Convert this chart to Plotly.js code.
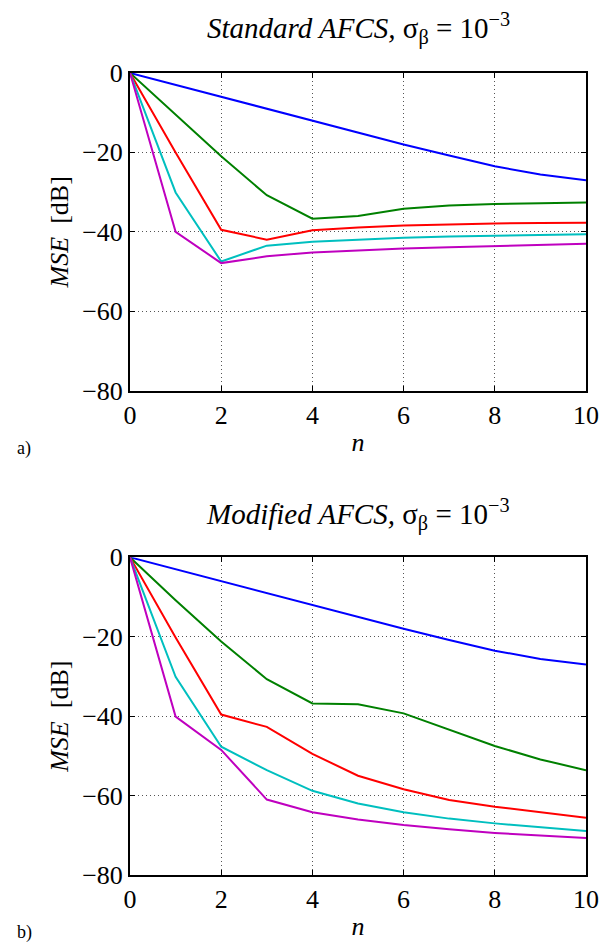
<!DOCTYPE html>
<html>
<head>
<meta charset="utf-8">
<script src="https://cdn.plot.ly/plotly-3.0.1.min.js"></script>
<style>html,body{margin:0;padding:0;background:#fff;}#chart{width:616px;height:946px;}</style>
</head>
<body>
<div id="chart"></div>
<script>
// ---- data ----
const n = [0, 1, 2, 3, 4, 5, 6, 7, 8, 9, 10];
const seriesColors = ['#0000FF', '#008000', '#FF0000', '#00BFBF', '#BF00BF'];

// Standard AFCS (panel a)
const stdBlue    = [0, -3.0, -6.0, -9.0, -12.0, -15.0, -18.0, -20.8, -23.5, -25.6, -27.0];
const stdGreen   = [0, -10.5, -21.0, -30.8, -36.7, -36.0, -34.2, -33.4, -33.0, -32.8, -32.6];
const stdRed     = [0, -20.0, -39.5, -42.0, -39.6, -38.9, -38.4, -38.1, -37.9, -37.8, -37.7];
const stdCyan    = [0, -30.1, -47.5, -43.5, -42.5, -42.0, -41.5, -41.2, -41.0, -40.8, -40.6];
const stdMagenta = [0, -40.0, -47.9, -46.2, -45.2, -44.7, -44.2, -43.9, -43.6, -43.3, -43.0];

// Modified AFCS (panel b)
const modBlue    = [0, -3.0, -6.0, -9.0, -12.0, -15.0, -18.0, -20.8, -23.5, -25.6, -27.0];
const modGreen   = [0, -10.8, -21.2, -30.7, -36.8, -37.0, -39.3, -43.5, -47.5, -50.9, -53.6];
const modRed     = [0, -20.2, -39.6, -42.7, -49.5, -55.0, -58.4, -61.1, -62.8, -64.2, -65.6];
const modCyan    = [0, -30.1, -47.7, -53.6, -58.8, -62.0, -64.2, -65.8, -67.0, -68.0, -68.9];
const modMagenta = [0, -40.1, -48.5, -61.0, -64.2, -66.0, -67.4, -68.5, -69.4, -70.0, -70.7];

const xTicks = [0, 2, 4, 6, 8, 10];
const yTicks = [-80, -60, -40, -20, 0];
const titleA = '<i>Standard AFCS,</i> σ<sub>β</sub> = 10<sup>−3</sup>';
const titleB = '<i>Modified AFCS,</i> σ<sub>β</sub> = 10<sup>−3</sup>';
const xTitle = '<i>n</i>';
const yTitle = '<i>MSE</i>  [dB]';

// ---- build ----
const FONT = 'Liberation Serif';
function mk(y, color, xa, ya) {
  return {x: n, y: y, type: 'scatter', mode: 'lines', xaxis: xa, yaxis: ya,
          line: {color: color, width: 2}, showlegend: false, hoverinfo: 'skip'};
}
const stdSets = [stdBlue, stdGreen, stdRed, stdCyan, stdMagenta];
const modSets = [modBlue, modGreen, modRed, modCyan, modMagenta];
const traces = [];
stdSets.forEach((s, i) => traces.push(mk(s, seriesColors[i], 'x', 'y')));
modSets.forEach((s, i) => traces.push(mk(s, seriesColors[i], 'x2', 'y2')));

function xax(anchor) {
  return {anchor: anchor, domain: [0, 1], range: [0, 10], tickvals: xTicks,
          ticks: 'inside', ticklen: 5, tickwidth: 1, tickcolor: '#000',
          showline: true, linewidth: 2, linecolor: '#000', mirror: 'ticks',
          showgrid: true, griddash: '1px,3px', gridcolor: '#555', gridwidth: 1,
          zeroline: false, tickfont: {family: FONT, size: 26, color: '#000'},
          title: {text: xTitle, font: {family: FONT, size: 26, color: '#000'}, standoff: 4}};
}
function yax(anchor, dom) {
  return {anchor: anchor, domain: dom, range: [-80, 0], tickvals: yTicks,
          ticks: 'inside', ticklen: 5, tickwidth: 1, tickcolor: '#000',
          showline: true, linewidth: 2, linecolor: '#000', mirror: 'ticks',
          showgrid: true, griddash: '1px,3px', gridcolor: '#555', gridwidth: 1,
          zeroline: false, tickfont: {family: FONT, size: 26, color: '#000'},
          title: {text: yTitle, font: {family: FONT, size: 26, color: '#000'}, standoff: 6}};
}
const layout = {
  width: 616, height: 946,
  margin: {l: 130, r: 30, t: 73, b: 71, pad: 0},
  paper_bgcolor: '#fff', plot_bgcolor: '#fff',
  font: {family: FONT, color: '#000'},
  xaxis: xax('y'), yaxis: yax('x', [0.6041, 1]),
  xaxis2: xax('y2'), yaxis2: yax('x2', [0, 0.3961]),
  annotations: [
    {text: titleA, xref: 'paper', yref: 'paper', x: 0.5, y: 1.056, xanchor: 'center', yanchor: 'middle',
     showarrow: false, font: {family: FONT, size: 29, color: '#000'}},
    {text: titleB, xref: 'paper', yref: 'paper', x: 0.5, y: 0.450, xanchor: 'center', yanchor: 'middle',
     showarrow: false, font: {family: FONT, size: 29, color: '#000'}},
    {text: 'a)', xref: 'paper', yref: 'paper', x: -0.252, y: (875 - 448) / 802, xanchor: 'left', yanchor: 'middle',
     showarrow: false, font: {family: FONT, size: 18, color: '#000'}},
    {text: 'b)', xref: 'paper', yref: 'paper', x: -0.252, y: (875 - 932) / 802, xanchor: 'left', yanchor: 'middle',
     showarrow: false, font: {family: FONT, size: 18, color: '#000'}}
  ]
};
Plotly.newPlot('chart', traces, layout, {displayModeBar: false, staticPlot: true});
</script>
</body>
</html>
